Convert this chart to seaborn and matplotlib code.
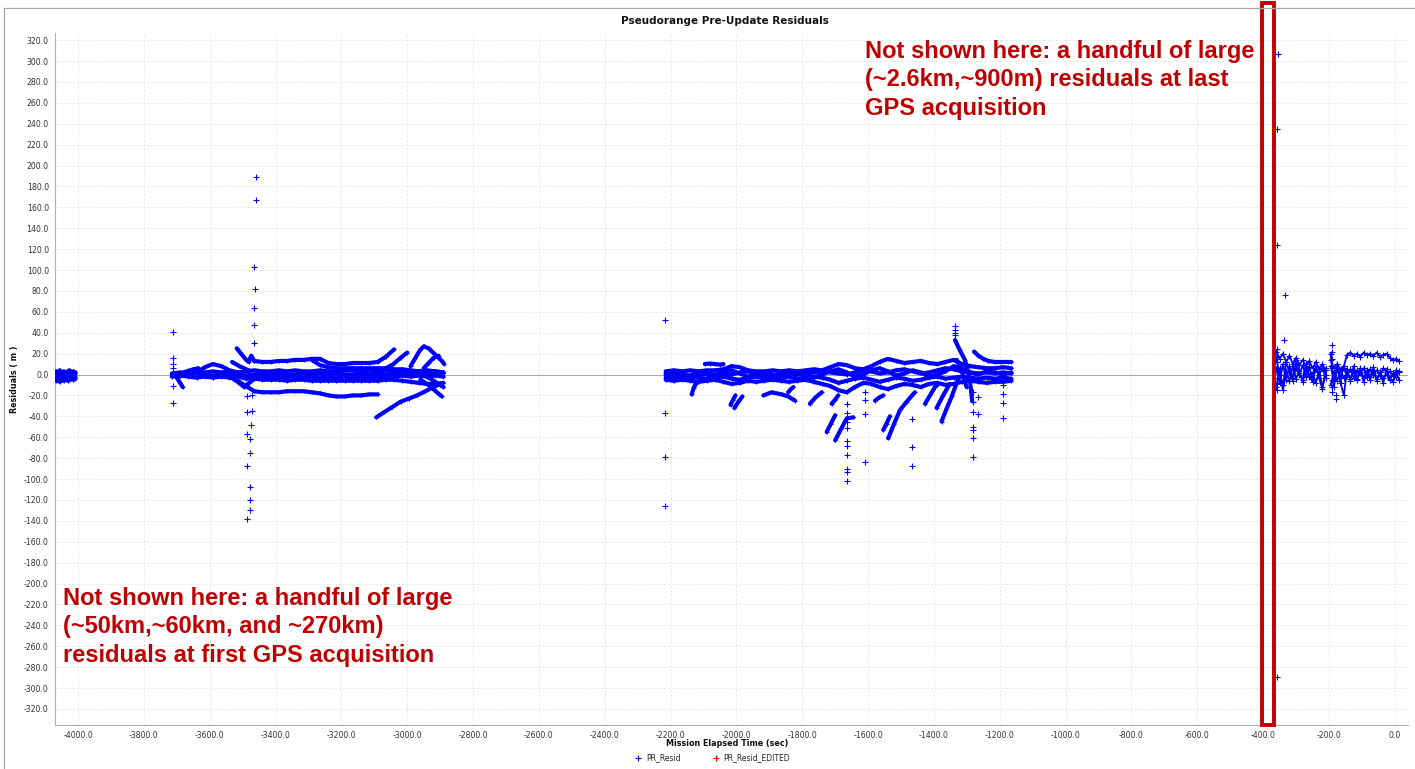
import numpy as np
import pandas as pd
import matplotlib
matplotlib.use("Agg")
import matplotlib.pyplot as plt
import seaborn as sns
from matplotlib.ticker import MultipleLocator, FormatStrFormatter
from matplotlib.lines import Line2D
from matplotlib.patches import Rectangle

N = None

# ---- segment A (first acquisition, left edge)
a_t = [-4068, -4062, -4056, -4050, -4044, -4038, -4032, -4026, -4020, -4014, -4008]
a_1 = [3, 2, 4, 2, 3, 1, 3, 4, 2, 3, 2]
a_2 = [0, -1, 1, 0, -1, 1, 0, -1, 1, 0, 1]
a_3 = [-3, -2, -4, -2, -3, -4, -2, -3, -2, -3, -2]
a_4 = [-6, -5, -7, -5, -6, -4, -6, -5, -4, -5, -4]

# ---- segment B
b_t = [-3715, -3690, -3665, -3640, -3615, -3590, -3565, -3540, -3515, -3490, -3465, -3440,
       -3415, -3390, -3365, -3340, -3315, -3290, -3265, -3240, -3215, -3190, -3165, -3140,
       -3115, -3090, -3065, -3040, -3015, -2990, -2965, -2940, -2915, -2890]
b_1 = [1, 2, 1, 3, 2, 3, 2, 3, 2, 3, 4, 3, 3, 4, 3, 4, 3, 3, 4, 3, 3, 4, 4, 3, 4, 3, 4, 3, 3, 2, 3, 2, 3, 2]
b_2 = [0, -1, 0, 1, 0, -1, 0, 1, 0, -1, 0, 1, 0, 1, 0, 0, 1, 0, 1, 0, 1, 0, 0, 1, 0, 1, 0, 1, 0, 1, 0, 1, 0, 1]
b_3 = [-2, -1, -2, -3, -2, -3, -2, -3, -2, -4, -3, -2, -3, -2, -3, -2, -3, -2, -3, -2, -3, -2, -3, -2,
       -3, -2, -3, -2, -1, -2, -1, -2, -1, -2]
b_4 = [N, N, N, N, N, N, N, N, N, N, -4, -5, -5, -5, -6, -5, -5, -6, -6, -6, -6, -6, -6, -6,
       -6, -6, -5, -5, -6, -7, -8, -9, -9, -8]
b_hi = [N, N, N, N, N, N, N, N, N, N, 13, 12, 12, 13, 13, 14, 14, 15, 15, 11, 10, 10, 11, 11,
        11, 12, 17, 24, N, N, N, N, N, N]
b_mid = [N, N, N, N, N, N, N, N, N, N, N, N, N, N, N, N, N, 14, 9, 7, 6, 6, 6, 6,
         6, 6, 6, 5, 5, 4, 3, 4, 3, 2]
b_lo = [N, N, N, N, N, N, N, N, -6, -11, -16, -17, -17, -17, -16, -16, -16, -17, -18, -20, -21, -21, -20, -20,
        -19, -19, N, N, N, N, N, N, N, N]
b_hump = [N, N, N, 2, 7, 10, 8, 4, 2, N, N, N, N, N, N, N, N, N, N, N, N, N, N, N,
          N, N, N, N, N, N, N, N, N, N]
b_arcs = [
    ([-3700, -3690, -3682], [-3, -8, -12]),
    ([-3690, -3670, -3650, -3635], [1, 3, 5, 6]),
    ([-3518, -3505, -3492, -3482, -3474, -3465], [25, 20, 15, 12, 18, 13]),
    ([-3532, -3510, -3482], [12, 8, 4]),
    ([-3540, -3515, -3495, -3480, -3465], [-2, -7, -12, -8, -4]),
    ([-3094, -3070, -3045, -3020, -2995, -2970, -2945, -2920, -2900], [-41, -36, -31, -26, -23, -20, -16, -12, -9]),
    ([-2960, -2935, -2910, -2895], [-5, -10, -17, -21]),
    ([-3065, -3042, -3020, -3000], [6, 10, 16, 21]),
    ([-2990, -2975, -2962, -2950, -2935, -2915, -2895, -2888], [8, 16, 23, 27, 25, 19, 13, 10]),
    ([-2950, -2935, -2920, -2905], [6, 11, 16, 18]),
    ([-2940, -2920, -2900, -2890], [-2, -6, -10, -12]),
]
b_out_t = [-3713, -3713, -3713, -3713, -3713, -3713, -3459, -3459, -3465, -3463, -3465, -3465, -3466,
           -3486, -3471, -3486, -3472, -3474, -3486, -3477, -3478, -3486, -3477, -3478, -3478, -3486]
b_out_v = [41, 16, 10, 6, -11, -27, 189, 167, 103, 82, 64, 47, 30,
           -21, -20, -36, -35, -48, -57, -62, -75, -88, -108, -120, -130, -138]

# ---- segment C
c_t = [-2215, -2190, -2165, -2140, -2115, -2090, -2065, -2040, -2015, -1990, -1965, -1940, -1915,
       -1890, -1865, -1840, -1815, -1790, -1765, -1740, -1715, -1690, -1665, -1640, -1615, -1590,
       -1565, -1540, -1515, -1490, -1465, -1440, -1415, -1390, -1365, -1340, -1315, -1290, -1265,
       -1240, -1215, -1190, -1165]
c_1 = [3, 4, 3, 4, 3, 4, 4, 5, 8, 7, 4, 3, 3, 4, 3, 4, 3, 4, 5, 4, 7, 10, 9, 6, 5, 8, 12, 15, 13, 11,
       12, 13, 11, 10, 12, 14, 10, 8, 7, 6, 6, 7, 6]
c_2 = [0, 1, 0, -1, 0, 1, 0, 1, 0, 2, 3, 1, 0, -1, 0, 1, 0, 1, 2, 3, 2, 1, 0, 2, 4, 3, 1, 2, 4, 5,
       3, 1, 2, 4, 6, 5, 3, 2, 1, 2, 1, 2, 1]
c_3 = [-3, -2, -3, -2, -3, -4, -3, -2, -4, -5, -3, -2, -3, -2, -3, -2, -4, -3, -2, -3, -5, -8, -6, -4,
       -3, -5, -7, -5, -3, -4, -6, -5, -3, -2, -4, -3, -2, -3, -4, -3, -4, -3, -4]
c_4 = [-5, -6, -5, -6, -7, -6, -5, -7, -9, -8, -6, -7, -6, -5, -6, -7, -6, -5, -7, -9, -11, -15, -17,
       -12, -8, -9, -12, -14, -11, -9, -10, -12, -9, -8, -10, -9, -7, -6, -7, -8, -7, -7, -6]
c_5 = [1, -1, -3, -1, 2, 0, -2, 2, 4, 1, -2, 0, 2, 0, -2, 0, 2, -1, -3, 0, 3, 5, 2, -2, 0, 4, 6, 3,
       -1, 1, 4, 2, -2, 0, 3, 8, 6, 2, 0, 3, 2, 0, 2]
c_arcs = [
    ([-2096, -2080, -2065, -2050, -2040], [10, 10.5, 10, 9.5, 10]),
    ([-2136, -2130, -2124], [-19, -13, -9]),
    ([-2018, -2010, -2003], [-29, -24, -20]),
    ([-2006, -1994, -1982], [-32, -26, -21]),
    ([-1918, -1893, -1863, -1843, -1822], [-20, -17, -19, -21, -25]),
    ([-1843, -1835, -1827], [-17, -14, -12]),
    ([-1777, -1760, -1741], [-28, -22, -17]),
    ([-1711, -1700, -1691], [-28, -24, -20]),
    ([-1726, -1713, -1700], [-55, -47, -39]),
    ([-1700, -1682, -1665, -1645], [-63, -52, -42, -41]),
    ([-1579, -1566, -1554], [-25, -22, -20]),
    ([-1554, -1544, -1534], [-53, -47, -40]),
    ([-1539, -1521, -1503, -1483, -1458], [-61, -47, -34, -26, -17]),
    ([-1427, -1412, -1397, -1387], [-28, -20, -12, -9]),
    ([-1392, -1372, -1352], [-32, -20, -9]),
    ([-1377, -1362, -1346, -1326], [-45, -33, -21, -4]),
    ([-1336, -1321, -1306, -1291, -1284], [33, 23, 14, -5, -25]),
    ([-1331, -1316, -1301], [14, 4, -12]),
    ([-1278, -1265, -1250, -1235, -1215, -1195, -1175, -1165], [22, 18, 15, 13, 12, 12, 12, 12]),
]
c_out_t = [-2217, -2217, -2217, -2217,
           -1664, -1664, -1664, -1664, -1664, -1664, -1664, -1664, -1664, -1664,
           -1608, -1608, -1608, -1608, -1468, -1468, -1468,
           -1281, -1281, -1281, -1281, -1281, -1281, -1281, -1266, -1266,
           -1189, -1189, -1189, -1189, -1336, -1336, -1336, -1336]
c_out_v = [52, -37, -79, -126,
           -28, -37, -45, -51, -64, -68, -77, -90, -93, -102,
           -17, -24, -38, -84, -43, -69, -88,
           -17, -26, -36, -50, -53, -61, -79, -22, -38,
           -10, -19, -27, -42, 46, 43, 40, 38]

# ---- segment D (last acquisition)
d_t = [-360, -350, -340, -330, -320, -310, -300, -290, -280, -270, -260, -250, -240, -230, -220, -210,
       -203, -195, -185, -175, -165, -155, -145, -135, -125, -115, -105, -95, -85, -75, -65, -55,
       -45, -35, -25, -15, -5, 5, 12]
d_1 = [22, 15, 20, 12, 18, 10, 16, 9, 14, 8, 13, 6, 12, 5, 10, 4, N,
       14, 6, 10, 5, 8, 19, 21, 18, 20, 17, 21, 19, 20, 18, 21, 17, 19, 20, 16, 14, 15, 13]
d_2 = [5, -8, 10, -5, 8, -3, 6, 0, 9, -2, 7, -4, 5, 0, 6, -3, N,
       8, -5, 4, -2, 6, 0, 5, -3, 4, 1, 6, -2, 5, 0, 4, -1, 6, 2, 3, -1, 4, 2]
d_3 = [-12, 6, -15, 3, -6, 8, -4, 3, -7, 5, -2, 2, -8, 3, -12, 0, N,
       -10, 3, -6, 4, -3, 2, -4, 3, -5, 2, -3, 4, -2, 1, -4, 2, -3, 0, -5, 1, -2, 3]
d_4 = [15, 0, -10, 12, 2, -6, 14, 1, -5, 10, -1, -7, 8, -3, -14, 6, N,
       20, -12, 10, -8, -20, 5, -6, 8, -4, 6, -7, 3, -5, 7, -6, 2, -8, 5, -4, -7, 2, -5]
d_out_t = [-358, -358, -358, -358, -358, -358, -358, -192, -192, -192, -192, -192, -192, -192,
           -178, -178, -354, -359, -357, -358, -334, -336]
d_out_v = [24, 18, 12, 5, -3, -9, -15, 28, 22, 15, 8, -5, -12, -17,
           -23, -20, 307, 235, 124, -289, 76, 33]

legend_labels = ["PR_Resid", "PR_Resid_EDITED"]
x_ticks = [-4000, -3800, -3600, -3400, -3200, -3000, -2800, -2600, -2400, -2200, -2000,
           -1800, -1600, -1400, -1200, -1000, -800, -600, -400, -200, 0]

BLUE = "#0000FF"
RED_NOTE = "#C00000"


def build_frame(times, tracks, arcs=()):
    # split every track at its gaps so that each run becomes one unit
    rows = []
    unit = 0
    for tr in tracks:
        run = []
        for t, v in zip(times, tr):
            if v is None:
                if run:
                    rows += [(tt, vv, unit) for tt, vv in run]
                    unit += 1
                run = []
            else:
                run.append((t, v))
        if run:
            rows += [(tt, vv, unit) for tt, vv in run]
            unit += 1
    for ts, vs in arcs:
        rows += [(tt, vv, unit) for tt, vv in zip(ts, vs)]
        unit += 1
    return pd.DataFrame(rows, columns=["t", "v", "unit"])


df_a = build_frame(a_t, [a_1, a_2, a_3, a_4])
df_b = build_frame(b_t, [b_1, b_2, b_3, b_4, b_hi, b_mid, b_lo, b_hump], b_arcs)
df_c = build_frame(c_t, [c_1, c_2, c_3, c_4, c_5], c_arcs)
df_d = build_frame(d_t, [d_1, d_2, d_3, d_4])
df_out = pd.DataFrame({"t": b_out_t + c_out_t + d_out_t, "v": b_out_v + c_out_v + d_out_v})

sns.set_style("white")
plt.rcParams["font.family"] = ["DejaVu Sans"]
plt.rcParams["axes.unicode_minus"] = False

fig = plt.figure(figsize=(14.15, 7.69), dpi=100)
ax = fig.add_axes([55 / 1415, 1 - 725 / 769, 1353 / 1415, 692 / 769])

for df in [df_a, df_b, df_c]:
    sns.lineplot(data=df, x="t", y="v", units="unit", estimator=None, sort=False,
                 color=BLUE, linewidth=3.0, marker="+", markersize=3.5, markeredgewidth=0.8,
                 markeredgecolor=BLUE, legend=False, ax=ax, zorder=3)
sns.lineplot(data=df_d, x="t", y="v", units="unit", estimator=None, sort=False,
             color=BLUE, linewidth=1.3, marker="+", markersize=4, markeredgewidth=0.8,
             markeredgecolor=BLUE, legend=False, ax=ax, zorder=3)
sns.scatterplot(data=df_out, x="t", y="v", marker="+", color=BLUE, s=14, linewidth=0.8,
                legend=False, ax=ax, zorder=4)

ax.set_xlim(-4070, 40)
ax.set_ylim(-335.4, 326.8)
ax.set_xticks(x_ticks)
ax.yaxis.set_major_locator(MultipleLocator(20))
ax.yaxis.set_minor_locator(MultipleLocator(10))
ax.xaxis.set_minor_locator(MultipleLocator(50))
ax.xaxis.set_major_formatter(FormatStrFormatter("%.1f"))
ax.yaxis.set_major_formatter(FormatStrFormatter("%.1f"))
ax.set_xlabel("")
ax.set_ylabel("")
ax.tick_params(axis="both", which="major", length=3, width=0.6, color="#9A9A9A",
               labelcolor="#333333", labelsize=5.6, pad=1.5, direction="out")
ax.tick_params(axis="both", which="minor", length=1.8, width=0.5, color="#9A9A9A", direction="out")
ax.grid(True, which="major", color="#E4E4E4", linewidth=0.6, linestyle=(0, (3, 2)))
ax.set_axisbelow(True)
ax.axhline(0, color="#A8A8A8", linewidth=0.8, zorder=1)
for side in ["top", "right"]:
    ax.spines[side].set_visible(False)
for side in ["left", "bottom"]:
    ax.spines[side].set_color("#B0B0B0")
    ax.spines[side].set_linewidth(0.8)

fig.text(0.512, 1 - 21 / 769, "Pseudorange Pre-Update Residuals", ha="center", va="center",
         fontsize=7.5, fontweight="bold", color="#111111")
fig.text(15 / 1415, 1 - 379 / 769, "Residuals ( m )", ha="center", va="center", rotation=90,
         fontsize=5.8, fontweight="bold", color="#111111")
fig.text(727 / 1415, 1 - 743 / 769, "Mission Elapsed Time (sec)", ha="center", va="center",
         fontsize=5.8, fontweight="bold", color="#111111")

handles = [Line2D([], [], marker="+", linestyle="none", color=BLUE, markersize=5, markeredgewidth=0.8),
           Line2D([], [], marker="+", linestyle="none", color="#FF0000", markersize=5, markeredgewidth=0.8)]
fig.legend(handles, legend_labels, loc="center", bbox_to_anchor=(0.503, 1 - 758 / 769), ncol=2,
           frameon=False, fontsize=5.5, columnspacing=4.0, handletextpad=0.4, handlelength=1.2)

note_kw = dict(fontsize=17, fontweight="bold", color=RED_NOTE, family=["Liberation Sans", "DejaVu Sans"],
               ha="left", va="top", linespacing=1.3)
fig.text(865 / 1415, 1 - 40 / 769,
         "Not shown here: a handful of large\n(~2.6km,~900m) residuals at last\nGPS acquisition", **note_kw)
fig.text(63 / 1415, 1 - 587 / 769,
         "Not shown here: a handful of large\n(~50km,~60km, and ~270km)\nresiduals at first GPS acquisition",
         **note_kw)

fig.patches.append(Rectangle((1261.7 / 1415, 1 - 725 / 769), 12.3 / 1415, 722.3 / 769,
                             transform=fig.transFigure, fill=False, edgecolor=RED_NOTE, linewidth=2.8))
fig.lines.append(Line2D([4 / 1415, 1], [1 - 8 / 769, 1 - 8 / 769], transform=fig.transFigure,
                        color="#A8A8A8", linewidth=0.9))
fig.lines.append(Line2D([4 / 1415, 4 / 1415], [0, 1 - 8 / 769], transform=fig.transFigure,
                        color="#A8A8A8", linewidth=0.9))

fig.savefig("out.png", dpi=100)
